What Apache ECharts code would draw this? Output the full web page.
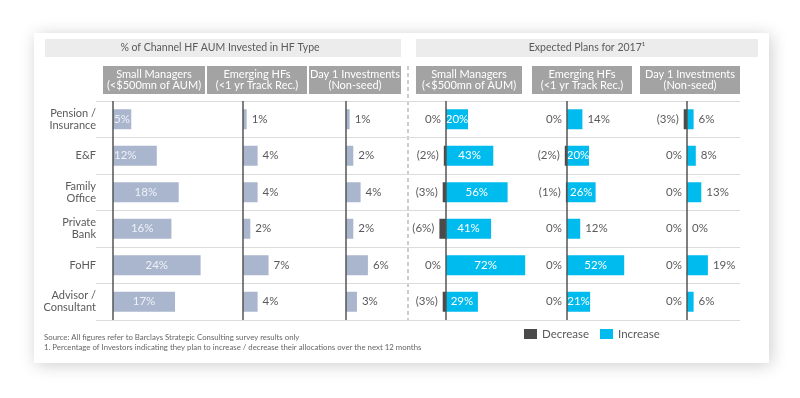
<!DOCTYPE html>
<html>
<head>
<meta charset="utf-8">
<script src="https://cdn.jsdelivr.net/npm/echarts@6.0.0/dist/echarts.min.js"></script>
<style>
  html, body { margin: 0; padding: 0; background: #fff; }
  #main { width: 800px; height: 398px; }
</style>
</head>
<body>
<div id="main"></div>
<script>
// row labels (top to bottom)
const categories = ['Pension /\nInsurance', 'E&F', 'Family\nOffice', 'Private\nBank', 'FoHF', 'Advisor /\nConsultant'];

// % of channel HF AUM invested in HF type
const aumSmall = [5, 12, 18, 16, 24, 17];
const aumEmerging = [1, 4, 4, 2, 7, 4];
const aumDay1 = [1, 2, 4, 2, 6, 3];

// expected plans for 2017
const decSmall = [0, 2, 3, 6, 0, 3];
const incSmall = [20, 43, 56, 41, 72, 29];
const decEmerging = [0, 2, 1, 0, 0, 0];
const incEmerging = [14, 20, 26, 12, 52, 21];
const decDay1 = [3, 0, 0, 0, 0, 0];
const incDay1 = [6, 8, 13, 0, 19, 6];

const headers = ['Small Managers\n(<$500mn of AUM)', 'Emerging HFs\n(<1 yr Track Rec.)', 'Day 1 Investments\n(Non-seed)'];

const FONT = 'Lato, "Noto Sans", sans-serif';
const GRAY_TXT = '#5a5a5a';
const AUM_COLOR = '#a9b6cd';
const DEC_COLOR = '#4a4a4a';
const INC_COLOR = '#00bbee';

let myChart = echarts.init(document.getElementById('main'));

const gridTop = 101, gridHeight = 219;
// zero x position, min, max, px per %
const panels = [
	{ zero: 113, min: 0, max: 30, scale: 3.65 },
	{ zero: 243, min: 0, max: 25, scale: 3.65 },
	{ zero: 346, min: 0, max: 15, scale: 3.65 },
	{ zero: 446, min: -10, max: 80, scale: 1.1 },
	{ zero: 567, min: -10, max: 60, scale: 1.1 },
	{ zero: 687, min: -10, max: 40, scale: 1.1 }
];

let grids = [], xAxes = [], yAxes = [], series = [];
panels.forEach(function(p, i) {
	grids.push({
		left: p.zero + p.min * p.scale,
		top: gridTop,
		width: (p.max - p.min) * p.scale,
		height: gridHeight
	});
	xAxes.push({ type: 'value', gridIndex: i, min: p.min, max: p.max, show: false });
	yAxes.push({ type: 'category', gridIndex: i, data: categories, inverse: true, show: false });
});
// full-width grid for row labels and separator lines
grids.push({ left: 96, top: gridTop, width: 644, height: gridHeight });
xAxes.push({ type: 'value', gridIndex: 6, show: false });
yAxes.push({
	type: 'category', gridIndex: 6, data: categories, inverse: true,
	axisLine: { show: false }, axisTick: { show: false },
	axisLabel: { color: GRAY_TXT, fontSize: 11, lineHeight: 12, margin: 0, fontFamily: FONT },
	splitLine: { show: true, lineStyle: { color: '#dcdcdc', width: 1 } }
});

const zeroLine = {
	silent: true, symbol: 'none', animation: false,
	label: { show: false },
	lineStyle: { color: '#555', width: 1.5, type: 'solid' },
	data: [{ xAxis: 0 }]
};

function outsideLabel() {
	return { show: true, position: 'right', distance: 5, color: GRAY_TXT, fontSize: 11.5, fontFamily: FONT, formatter: '{c}%' };
}

// left panels
series.push({
	type: 'bar', xAxisIndex: 0, yAxisIndex: 0, barWidth: 20,
	itemStyle: { color: AUM_COLOR },
	data: aumSmall.map(function(v) {
		return {
			value: v,
			label: { position: v < 15 ? 'insideLeft' : 'inside', distance: 1 }
		};
	}),
	label: { show: true, color: '#eef2f8', fontSize: 11.5, fontFamily: FONT, formatter: '{c}%' },
	markLine: zeroLine
});
[aumEmerging, aumDay1].forEach(function(arr, k) {
	series.push({
		type: 'bar', xAxisIndex: k + 1, yAxisIndex: k + 1, barWidth: 20,
		itemStyle: { color: AUM_COLOR },
		data: arr,
		label: outsideLabel(),
		markLine: zeroLine
	});
});

// right panels
[[decSmall, incSmall], [decEmerging, incEmerging], [decDay1, incDay1]].forEach(function(pair, k) {
	const idx = k + 3;
	series.push({
		name: 'Decrease', type: 'bar', xAxisIndex: idx, yAxisIndex: idx, barWidth: 20, barGap: '-100%',
		itemStyle: { color: DEC_COLOR },
		data: pair[0].map(function(v) { return -v; }),
		label: {
			show: true, position: 'left', distance: 5, color: GRAY_TXT, fontSize: 11.5, fontFamily: FONT,
			formatter: function(p) { return p.value === 0 ? '0%' : '(' + (-p.value) + '%)'; }
		},
		markLine: zeroLine
	});
	series.push({
		name: 'Increase', type: 'bar', xAxisIndex: idx, yAxisIndex: idx, barWidth: 20, barGap: '-100%',
		itemStyle: { color: INC_COLOR },
		data: pair[1].map(function(v) {
			return {
				value: v,
				label: v >= 20 ? { position: 'inside', color: '#fff' } : { position: 'right', color: GRAY_TXT }
			};
		}),
		label: { show: true, distance: 5, fontSize: 11.5, fontFamily: FONT, formatter: '{c}%' }
	});
});

// header boxes
let graphics = [
	{
		type: 'rect', z: -10, silent: true,
		shape: { x: 34, y: 33, width: 735, height: 330 },
		style: { fill: '#fff', shadowBlur: 16, shadowColor: 'rgba(0,0,0,0.2)', shadowOffsetX: 2, shadowOffsetY: 2 }
	},
	{ type: 'rect', shape: { x: 45, y: 39, width: 356, height: 18 }, style: { fill: '#ececec' } },
	{ type: 'rect', shape: { x: 416, y: 39, width: 342, height: 18 }, style: { fill: '#ececec' } },
	{
		type: 'text', x: 220, y: 48,
		style: { text: '% of Channel HF AUM Invested in HF Type', fill: GRAY_TXT, fontSize: 10.5, fontFamily: FONT, align: 'center', verticalAlign: 'middle' }
	},
	{
		type: 'text', x: 587, y: 48,
		style: { text: 'Expected Plans for 2017\u00b9', fill: GRAY_TXT, fontSize: 10.5, fontFamily: FONT, align: 'center', verticalAlign: 'middle' }
	},
	{
		type: 'line', shape: { x1: 408, y1: 66, x2: 408, y2: 320 },
		style: { stroke: '#999', lineWidth: 1, lineDash: [4, 3] }
	},
	{
		type: 'text', x: 44, y: 333,
		style: { text: 'Source: All figures refer to Barclays Strategic Consulting survey results only', fill: '#666', fontSize: 7.8, fontFamily: FONT }
	},
	{
		type: 'text', x: 44, y: 343,
		style: { text: '1. Percentage of Investors indicating they plan to increase / decrease their allocations over the next 12 months', fill: '#666', fontSize: 7.8, fontFamily: FONT }
	}
];
const subBoxes = [[103, 102], [207, 100], [309, 92], [416, 106], [532, 100], [640, 100]];
subBoxes.forEach(function(b, i) {
	graphics.push({ type: 'rect', shape: { x: b[0], y: 66, width: b[1], height: 28 }, style: { fill: '#a3a3a3' } });
	graphics.push({
		type: 'text', x: b[0] + b[1] / 2, y: 80,
		style: { text: headers[i % 3], fill: '#fff', fontSize: 11, lineHeight: 11, fontFamily: FONT, align: 'center', verticalAlign: 'middle' }
	});
});

let option = {
	backgroundColor: '#fff',
	animation: false,
	grid: grids,
	xAxis: xAxes,
	yAxis: yAxes,
	legend: {
		left: 524, top: 328, padding: 0,
		itemWidth: 13, itemHeight: 10, itemGap: 11,
		icon: 'rect',
		data: ['Decrease', 'Increase'],
		textStyle: { color: GRAY_TXT, fontSize: 11.5, fontFamily: FONT }
	},
	graphic: graphics,
	series: series
};

myChart.setOption(option);
</script>
</body>
</html>
